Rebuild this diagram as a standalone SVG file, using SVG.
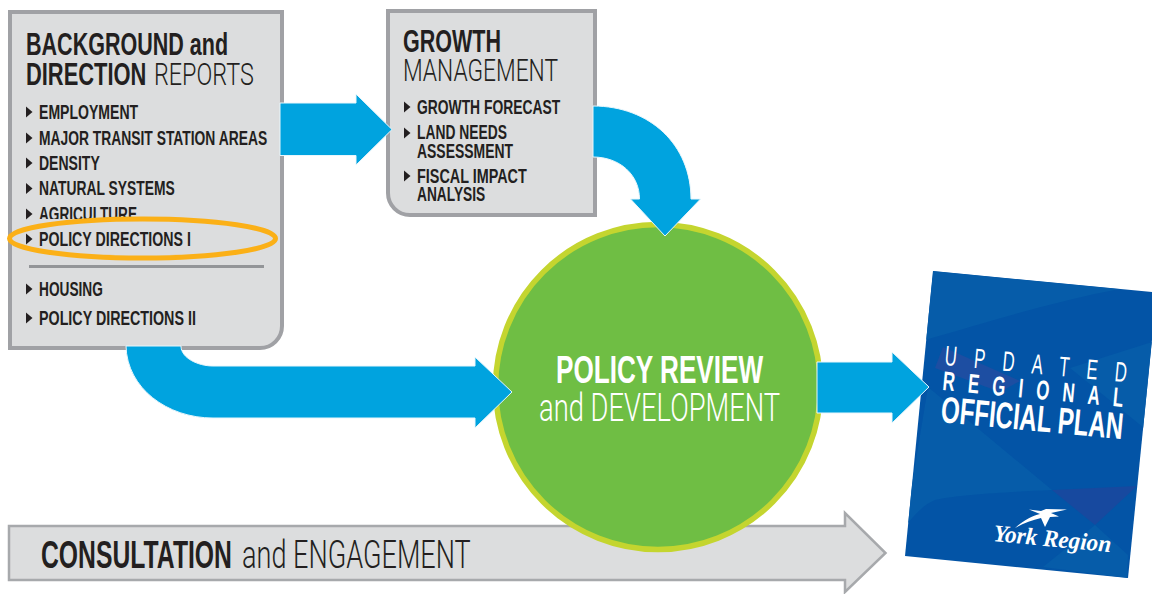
<svg xmlns="http://www.w3.org/2000/svg" width="1152" height="594" viewBox="0 0 1152 594">
<style>
text{font-family:"Liberation Sans",Arial,sans-serif;fill:#231f20}
.b{font-weight:700}
.l{font-family:Roboto,"Liberation Sans",sans-serif;font-weight:300}
.i{font-size:21px;font-weight:700}
.t{font-size:32px}
.w{fill:#fff}
.box{fill:#dcddde;stroke:#a0a1a5;stroke-width:4}
.arr{fill:#00a3df;stroke:#e8f6fc;stroke-width:1}
.tri{fill:#231f20}
.f{fill:#065ca9}
</style>
<defs>
<polygon id="tri" class="tri" points="0,-5.5 6.5,0 0,5.5"/>
<clipPath id="bookclip"><polygon points="933,271 1152,292 1152,340 1128,578 905,556"/></clipPath>
</defs>
<rect width="1152" height="594" fill="#fff"/>

<g id="consultation">
<polygon points="9,526 845,526 845,513 885.500,553 845,592 845,580 9,580" fill="#dcddde" stroke="#a7a9ac" stroke-width="2.500"/>
<text transform="translate(41 568) scale(.62 1)" font-size="38" class="b" textLength="308" lengthAdjust="spacingAndGlyphs">CONSULTATION</text>
<text transform="translate(242 568) scale(.62 1)" font-size="38" class="l" textLength="369" lengthAdjust="spacingAndGlyphs">and ENGAGEMENT</text>
</g>

<g id="background-reports">
<path class="box" d="M10,12H282V326a22,22 0 0 1-22,22H10Z"/>
<text transform="translate(26 55) scale(.62 1)" class="t b" textLength="326" lengthAdjust="spacingAndGlyphs">BACKGROUND and</text>
<text transform="translate(26 85) scale(.62 1)" class="t b" textLength="194" lengthAdjust="spacingAndGlyphs">DIRECTION</text>
<text transform="translate(154 85) scale(.62 1)" class="t l" textLength="161" lengthAdjust="spacingAndGlyphs">REPORTS</text>
<use href="#tri" x="26" y="112"/><text transform="translate(39 119) scale(.62 1)" class="i" textLength="160" lengthAdjust="spacingAndGlyphs">EMPLOYMENT</text>
<use href="#tri" x="26" y="138"/><text transform="translate(39 144.500) scale(.62 1)" class="i" textLength="368" lengthAdjust="spacingAndGlyphs">MAJOR TRANSIT STATION AREAS</text>
<use href="#tri" x="26" y="163"/><text transform="translate(39 169.500) scale(.62 1)" class="i" textLength="98" lengthAdjust="spacingAndGlyphs">DENSITY</text>
<use href="#tri" x="26" y="188.500"/><text transform="translate(39 195) scale(.62 1)" class="i" textLength="219" lengthAdjust="spacingAndGlyphs">NATURAL SYSTEMS</text>
<use href="#tri" x="26" y="214"/><text transform="translate(39 220.500) scale(.62 1)" class="i" textLength="158" lengthAdjust="spacingAndGlyphs">AGRICULTURE</text>
<rect x="30" y="219" width="120" height="12" fill="#dcddde"/>
<use href="#tri" x="26" y="239"/><text transform="translate(39 246) scale(.62 1)" class="i" textLength="245" lengthAdjust="spacingAndGlyphs">POLICY DIRECTIONS I</text>
<ellipse cx="142.500" cy="238.500" rx="133" ry="19.500" fill="none" stroke="#fbb017" stroke-width="5"/>
<line x1="29" y1="266.500" x2="264" y2="266.500" stroke="#939598" stroke-width="3"/>
<use href="#tri" x="26" y="289"/><text transform="translate(39 296) scale(.62 1)" class="i" textLength="103" lengthAdjust="spacingAndGlyphs">HOUSING</text>
<use href="#tri" x="26" y="318"/><text transform="translate(39 325) scale(.62 1)" class="i" textLength="253" lengthAdjust="spacingAndGlyphs">POLICY DIRECTIONS II</text>
</g>

<g id="growth-management">
<path class="box" d="M388,11H595V215H410a22,22 0 0 1-22-22Z"/>
<text transform="translate(403 52) scale(.62 1)" class="t b" textLength="158" lengthAdjust="spacingAndGlyphs">GROWTH</text>
<text transform="translate(403 81) scale(.62 1)" class="t l" textLength="250" lengthAdjust="spacingAndGlyphs">MANAGEMENT</text>
<use href="#tri" x="404" y="107"/><text transform="translate(417 114) scale(.62 1)" class="i" textLength="231" lengthAdjust="spacingAndGlyphs">GROWTH FORECAST</text>
<use href="#tri" x="404" y="133"/><text transform="translate(417 139) scale(.62 1)" class="i" textLength="145" lengthAdjust="spacingAndGlyphs">LAND NEEDS</text>
<text transform="translate(417 158) scale(.62 1)" class="i" textLength="155" lengthAdjust="spacingAndGlyphs">ASSESSMENT</text>
<use href="#tri" x="404" y="176"/><text transform="translate(417 183) scale(.62 1)" class="i" textLength="177" lengthAdjust="spacingAndGlyphs">FISCAL IMPACT</text>
<text transform="translate(417 201) scale(.62 1)" class="i" textLength="110" lengthAdjust="spacingAndGlyphs">ANALYSIS</text>
</g>

<g id="policy-review">
<circle cx="658" cy="387" r="162.500" fill="#6fbe44" stroke="#c4d52f" stroke-width="5.500"/>
<text transform="translate(556 383) scale(.62 1)" font-size="39" class="b w" textLength="334" lengthAdjust="spacingAndGlyphs">POLICY REVIEW</text>
<text transform="translate(539 421) scale(.62 1)" font-size="39" class="l w" textLength="389" lengthAdjust="spacingAndGlyphs">and DEVELOPMENT</text>
</g>

<g id="official-plan">
<polygon points="933,271 1152,292 1152,340 1128,578 905,556" fill="#0354a6"/>
<g clip-path="url(#bookclip)">
<path class="f" d="M933,271L1120,289C1060,300 1005,317 925,340Z"/>
<polygon class="f" points="1070,368 1152,342 1144,428"/>
<path class="f" d="M928,387L1052,490C1010,492 960,494 935,500C922,505 912,518 905,527Z"/>
<polygon points="943,347 1020,381 1000,392 935,368" fill="#1d4ea2"/>
<polygon points="1052,490 1137,486 1095,525" fill="#17499f"/>
<polygon class="f" points="1095,525 1128,555 1127,578 1043,567"/>
</g>
<text font-size="28" class="w" textLength="305" transform="translate(944 365) rotate(5.400) scale(.6 1)" style="font-weight:400">UPDATED</text>
<text font-size="27" class="b w" textLength="290" transform="translate(942 390) rotate(5.400) scale(.625 1)">REGIONAL</text>
<text font-size="37" class="b w" transform="translate(940 422) rotate(5.400) scale(.72 1)" textLength="254" lengthAdjust="spacingAndGlyphs">OFFICIAL PLAN</text>
<path d="M1015,528C1024,520 1032,516 1040,514L1029,509.500L1041,511L1046,509L1067,509.500L1051,513L1059,516.500L1050,517L1045,527L1041,518C1032,520 1024,523 1015,528Z" fill="#fff"/>
<text x="993" y="541" font-size="24" class="w" font-style="italic" font-weight="700" style="font-family:'Liberation Serif',serif" textLength="118" lengthAdjust="spacingAndGlyphs" transform="rotate(5.400 993 541)">York Region</text>
</g>

<g id="connectors">
<polygon class="arr" points="280,103 356,103 356,94 392,129.500 356,165 356,155.500 280,155.500"/>
<path class="arr" d="M593,106C650,106 691,145 691,199H700.500L665,236L630.500,199H639.500C639.500,175 620,157 593,157Z"/>
<path class="arr" d="M126,346C127,388 167,418 213,418H475V428L512,392L475,357V366H213C198,366 181,358 181,346Z"/>
<polygon class="arr" points="817,362 892,362 892,352 929,387 892,423 892,413 817,413"/>
</g>
</svg>
